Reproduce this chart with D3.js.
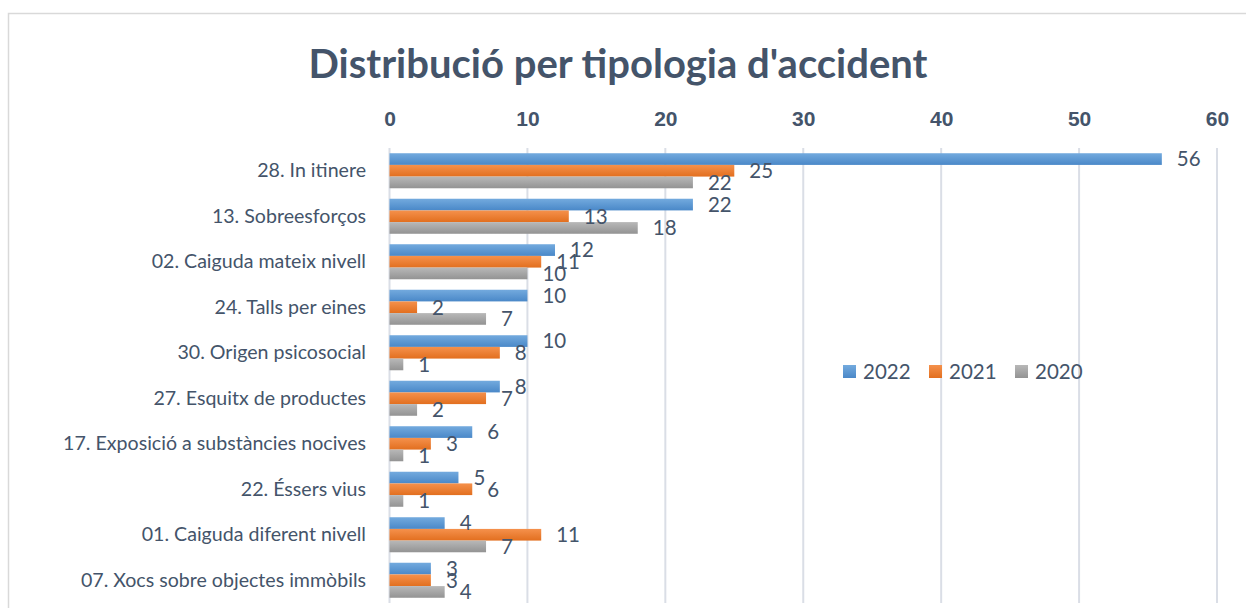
<!DOCTYPE html>
<html>
<head>
<meta charset="utf-8">
<script src="https://cdn.jsdelivr.net/npm/d3@7"></script>
<style>
  html, body { margin: 0; padding: 0; background: #fff; }
  svg { display: block; }
  text { font-family: Lato, "Open Sans", sans-serif; fill: #44546A; }
</style>
</head>
<body>
<svg id="chart" width="1246" height="608"></svg>
<script>
const width = 1246;
const height = 608;
const svg = d3.select("#chart");

// data
const categories = [
    "28. In itinere",
    "13. Sobreesforços",
    "02. Caiguda mateix nivell",
    "24. Talls per eines",
    "30. Origen psicosocial",
    "27. Esquitx de productes",
    "17. Exposició a substàncies nocives",
    "22. Éssers vius",
    "01. Caiguda diferent nivell",
    "07. Xocs sobre objectes immòbils"
];
const seriesNames = ["2022", "2021", "2020"];
const values2022 = [56, 22, 12, 10, 10, 8, 6, 5, 4, 3];
const values2021 = [25, 13, 11, 2, 8, 7, 3, 6, 11, 3];
const values2020 = [22, 18, 10, 7, 1, 2, 1, 1, 7, 4];
const xTicks = [0, 10, 20, 30, 40, 50, 60];

const seriesValues = [values2022, values2021, values2020];
const colors = {
    "2022": ["#73aade", "#4a88c8"],
    "2021": ["#f5914c", "#e26f1f"],
    "2020": ["#b8b8b8", "#939393"]
};

const plot = { left: 389.5, right: 1217, top: 148, bottom: 603 };

const x = d3.scaleLinear().domain([0, 60]).range([plot.left, plot.right]);
const y = d3.scaleBand().domain(categories).range([plot.top, plot.bottom])
    .paddingInner(0.23).paddingOuter(0.115);
const ySub = d3.scaleBand().domain(seriesNames).range([0, y.bandwidth()]);

// gradients for the bars
const defs = svg.append("defs");
seriesNames.forEach(s => {
    const grad = defs.append("linearGradient")
        .attr("id", "grad" + s)
        .attr("x1", 0).attr("x2", 0).attr("y1", 0).attr("y2", 1);
    grad.append("stop").attr("offset", "0%").attr("stop-color", colors[s][0]);
    grad.append("stop").attr("offset", "100%").attr("stop-color", colors[s][1]);
});

// chart frame
svg.append("path")
    .attr("d", "M8.5,608 V13.5 H1246")
    .attr("fill", "none")
    .attr("stroke", "#d9d9d9")
    .attr("stroke-width", 1.5);

// title
svg.append("text")
    .attr("x", 618)
    .attr("y", 78)
    .attr("text-anchor", "middle")
    .style("font-size", "40px")
    .style("font-weight", "bold")
    .text("Distribució per tipologia d'accident");

// gridlines
svg.append("g")
    .selectAll("line")
    .data(xTicks)
    .join("line")
    .attr("x1", d => x(d)).attr("x2", d => x(d))
    .attr("y1", plot.top).attr("y2", plot.bottom)
    .attr("stroke", "#dadee6")
    .attr("stroke-width", 2);

// top axis
const xAxis = d3.axisTop(x).tickValues(xTicks).tickSize(0).tickPadding(0);
const gx = svg.append("g")
    .attr("transform", `translate(0,${plot.top - 22})`)
    .call(xAxis);
gx.select(".domain").remove();
gx.selectAll("text")
    .attr("dy", 0)
    .style("font-family", "'Liberation Sans Narrow', sans-serif")
    .style("font-size", "21px")
    .style("font-weight", "bold")
    .style("fill", "#44546A");

// category axis
const yAxis = d3.axisLeft(y).tickSize(0).tickPadding(0);
const gy = svg.append("g")
    .attr("transform", `translate(366,0)`)
    .call(yAxis);
gy.select(".domain").remove();
gy.selectAll("text")
    .style("font-family", "Lato, sans-serif")
    .style("font-size", "19.6px")
    .style("fill", "#44546A");

// bars
const rows = categories.map((c, i) => ({
    category: c,
    items: seriesNames.map((s, j) => ({ series: s, value: seriesValues[j][i] }))
}));

const groups = svg.append("g")
    .selectAll("g")
    .data(rows)
    .join("g")
    .attr("transform", d => `translate(0,${y(d.category)})`);

groups.selectAll("rect")
    .data(d => d.items)
    .join("rect")
    .attr("x", x(0))
    .attr("y", d => ySub(d.series))
    .attr("width", d => x(d.value) - x(0))
    .attr("height", ySub.bandwidth())
    .attr("fill", d => `url(#grad${d.series})`);

// data labels
groups.selectAll("text.label")
    .data(d => d.items)
    .join("text")
    .attr("class", "label")
    .attr("x", d => x(d.value) + 15)
    .attr("y", d => ySub(d.series) + ySub.bandwidth() / 2)
    .attr("dy", "0.36em")
    .style("font-size", "20.5px")
    .text(d => d.value);

// legend
const legend = svg.append("g")
    .attr("transform", "translate(843,365)");
const legendItem = legend.selectAll("g")
    .data(seriesNames)
    .join("g")
    .attr("transform", (d, i) => `translate(${i * 86},0)`);
legendItem.append("rect")
    .attr("width", 13).attr("height", 13)
    .attr("fill", d => `url(#grad${d})`);
legendItem.append("text")
    .attr("x", 20)
    .attr("y", 6.5)
    .attr("dy", "0.36em")
    .style("font-size", "20.5px")
    .text(d => d);
</script>
</body>
</html>
